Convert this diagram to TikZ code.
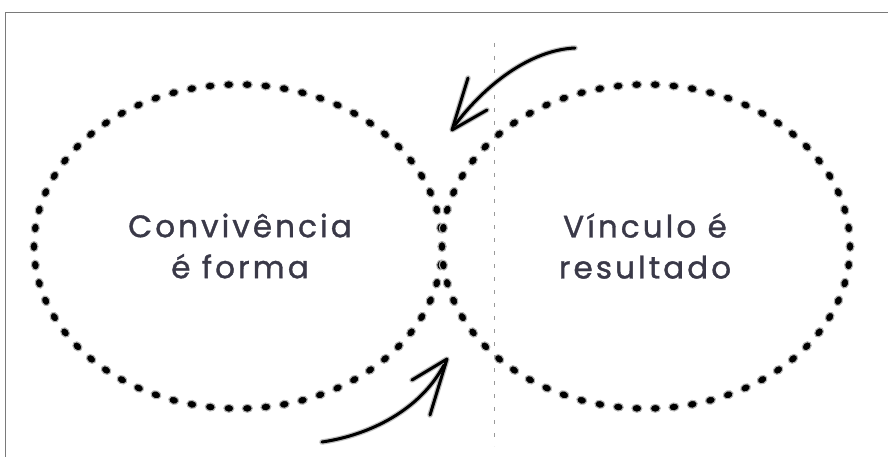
\documentclass[tikz,border=0pt]{standalone}
\usepackage{fontspec}
\setmainfont{Poppins}[LetterSpace=10,FakeBold=1.2]
\usetikzlibrary{decorations.markings}
\definecolor{txt}{HTML}{3A3948}
\definecolor{frame}{HTML}{7A7A7A}
\tikzset{
  dotring/.style={decorate,decoration={markings,
    mark=between positions 0 and 0.995 step 0.016129 with
      {\filldraw[draw=black!30,line width=1.1pt,fill=black] (0,0) ellipse [x radius=5pt,y radius=4pt];}}},
  label/.style={text=txt,font=\fontsize{31}{41}\selectfont,align=center,inner sep=0pt},
  halo/.style={draw=black!25,line width=5.5pt,line cap=round,line join=round},
  arr/.style={draw=black,line width=3pt,line cap=round,line join=round},
}
\begin{document}
\begin{tikzpicture}[x=1pt,y=-1pt]
\useasboundingbox (0,0) rectangle (888,457);
\fill[white] (0,0) rectangle (888,457);
% frame
\draw[frame,line width=1.6pt] (5.5,457) -- (5.5,12.5) -- (888,12.5);
% dashed axis
\coordinate (axtop) at (494,43);
\coordinate (axbot) at (494,446);
\draw[black!40,line width=0.9pt,dash pattern=on 4pt off 9pt] (axtop) -- (axbot);
% rings
\coordinate (lc) at (238,246.5);
\coordinate (rc) at (646,246.5);
\path[dotring] (lc) ellipse [x radius=204pt,y radius=162pt];
\path[dotring] (rc) ellipse [x radius=204pt,y radius=162pt];
% texts
\node[label] (ltext) at (240,246) {Convivência\\é forma};
\node[label] (rtext) at (645,246) {Vínculo é\\resultado};
% arrows
\coordinate (a1s) at (575,48);
\coordinate (a1t) at (452,130);
\coordinate (a1b1) at (468,78);
\coordinate (a1b2) at (487,110);
\coordinate (a2s) at (322,442);
\coordinate (a2t) at (447,359);
\coordinate (a2b1) at (412,380);
\coordinate (a2b2) at (430,415);
\foreach \st in {halo,arr}{
  \path[\st] (a1s) .. controls (530,50) and (485,85) .. (455,125);
  \path[\st] (a1b1) -- (a1t) -- (a1b2);
  \path[\st] (a2s) .. controls (370,435) and (420,410) .. (444,365);
  \path[\st] (a2b1) -- (a2t) -- (a2b2);
}
\end{tikzpicture}
\end{document}
